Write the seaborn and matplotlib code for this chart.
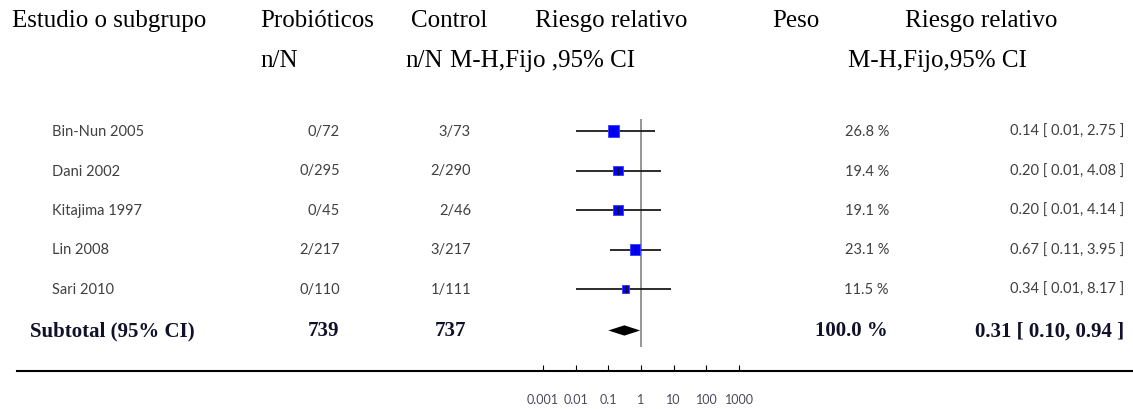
import numpy as np
import pandas as pd
import seaborn as sns
import matplotlib
matplotlib.use("Agg")
import matplotlib.pyplot as plt
from matplotlib import transforms

# ---------------- data ----------------
studies = ["Bin-Nun 2005", "Dani 2002", "Kitajima 1997", "Lin 2008", "Sari 2010"]
probio_nN = ["0/72", "0/295", "0/45", "2/217", "0/110"]
control_nN = ["3/73", "2/290", "2/46", "3/217", "1/111"]
weights = [26.8, 19.4, 19.1, 23.1, 11.5]
rr = [0.14, 0.20, 0.20, 0.67, 0.34]
ci_low = [0.01, 0.01, 0.01, 0.11, 0.01]
ci_high = [2.75, 4.08, 4.14, 3.95, 8.17]

subtotal_label = "Subtotal (95% CI)"
subtotal_probio = "739"
subtotal_control = "737"
subtotal_weight = 100.0
subtotal_rr = 0.31
subtotal_low = 0.10
subtotal_high = 0.94

tick_values = [0.001, 0.01, 0.1, 1, 10, 100, 1000]
tick_labels = ["0.001", "0.01", "0.1", "1", "10", "100", "1000"]

header1 = ["Estudio o subgrupo", "Probióticos", "Control", "Riesgo relativo", "Peso", "Riesgo relativo"]
header2 = ["n/N", "n/N", "M-H,Fijo ,95% CI", "M-H,Fijo,95% CI"]

# ---------------- figure ----------------
sns.set_theme(style="white")
plt.rcParams["font.family"] = ["Lato", "DejaVu Sans"]

W, H = 1133, 410
fig = plt.figure(figsize=(W / 100, H / 100), dpi=100)

# axes geometry (pixels)
ax_left, ax_right = 17, 1133
ax_top, ax_bottom = 100, 372
ax = fig.add_axes([ax_left / W, 1 - ax_bottom / H, (ax_right - ax_left) / W, (ax_bottom - ax_top) / H])

row0, row_step = 132, 39.5
one_px, decade_px = 641, 32.7

df = pd.DataFrame({"study": studies, "rr": rr, "lo": ci_low, "hi": ci_high,
                   "w": weights, "y": np.arange(len(studies), dtype=float)})
y_sub = float(len(studies)) + 0.05

ax.set_xscale("log")
ax.set_xlim(10 ** (-(one_px - ax_left) / decade_px), 10 ** ((ax_right - one_px) / decade_px))
ax.set_ylim((ax_bottom - row0) / row_step, (ax_top - row0) / row_step)

# line of no effect
ax.vlines(1, (120 - row0) / row_step, (348 - row0) / row_step, color="#8c8c8c", lw=1.3, zorder=1)

# confidence intervals
ax.hlines(df["y"], df["lo"], df["hi"], color="#1a1a1a", lw=1.3, zorder=2)

# weighted squares
sns.scatterplot(data=df, x="rr", y="y", size="w", sizes=(28, 64), marker="s",
                color="#0000ff", edgecolor="#3a3aff", linewidth=0.6, legend=False, ax=ax, zorder=3)
ax.scatter(df["rr"], df["y"], marker="|", s=30, c="#111111", linewidths=0.9, zorder=4)

# pooled diamond
dh = 0.13
ax.fill([subtotal_low, subtotal_rr, subtotal_high, subtotal_rr],
        [y_sub, y_sub - dh, y_sub, y_sub + dh], color="#000000", lw=0, zorder=3)

# axis styling
for s in ["top", "right", "left"]:
    ax.spines[s].set_visible(False)
ax.spines["bottom"].set_color("#000000")
ax.spines["bottom"].set_linewidth(1.5)
ax.set_yticks([])
ax.set_xticks(tick_values)
ax.set_xticklabels(tick_labels)
ax.set_xticks([1], minor=True)
ax.xaxis.set_minor_formatter(matplotlib.ticker.NullFormatter())
ax.tick_params(axis="x", which="major", direction="in", length=4.3, width=0.8, color="#000000",
               pad=16, labelsize=9, labelcolor="#4a4a5a", bottom=True)
ax.tick_params(axis="x", which="minor", direction="in", length=9.4, width=0.8, color="#7a7a7a",
               bottom=True)
ax.set_xlabel("")
ax.set_ylabel("")
ax.patch.set_alpha(0)

# ---------------- text columns ----------------
tr = transforms.blended_transform_factory(fig.transFigure, ax.transData)

def px(x):
    return x / W

body_kw = dict(transform=tr, va="center", fontsize=10.5, color="#404040", family=["Lato", "DejaVu Sans"])
for i, row in df.iterrows():
    ax.text(px(52), row["y"], row["study"], ha="left", **body_kw)
    ax.text(px(340), row["y"], probio_nN[i], ha="right", **body_kw)
    ax.text(px(471), row["y"], control_nN[i], ha="right", **body_kw)
    ax.text(px(889), row["y"], f"{row['w']:.1f} %", ha="right", **body_kw)
    ax.text(px(1124), row["y"], f"{row['rr']:.2f} [ {row['lo']:.2f}, {row['hi']:.2f} ]", ha="right", **body_kw)

bold_kw = dict(transform=tr, va="center", fontsize=15, fontweight="bold", color="#10102a",
               family=["Liberation Serif", "DejaVu Serif"])
ax.text(px(30), y_sub, subtotal_label, ha="left", **bold_kw)
ax.text(px(339), y_sub, subtotal_probio, ha="right", **bold_kw)
ax.text(px(466), y_sub, subtotal_control, ha="right", **bold_kw)
ax.text(px(888), y_sub, f"{subtotal_weight:.1f} %", ha="right", **bold_kw)
ax.text(px(1124), y_sub, f"{subtotal_rr:.2f} [ {subtotal_low:.2f}, {subtotal_high:.2f} ]", ha="right", **bold_kw)

# ---------------- headers ----------------
hkw = dict(fontsize=18, color="#000000", family=["Liberation Serif", "DejaVu Serif"], va="baseline", ha="left")
h1_x = [12, 260, 411, 535, 772, 905]
for x, t in zip(h1_x, header1):
    fig.text(px(x), 1 - 27 / H, t, **hkw)
h2_x = [260, 405, 450, 848]
for x, t in zip(h2_x, header2):
    fig.text(px(x), 1 - 67 / H, t, **hkw)

fig.savefig("out.png", dpi=100, facecolor="white")
